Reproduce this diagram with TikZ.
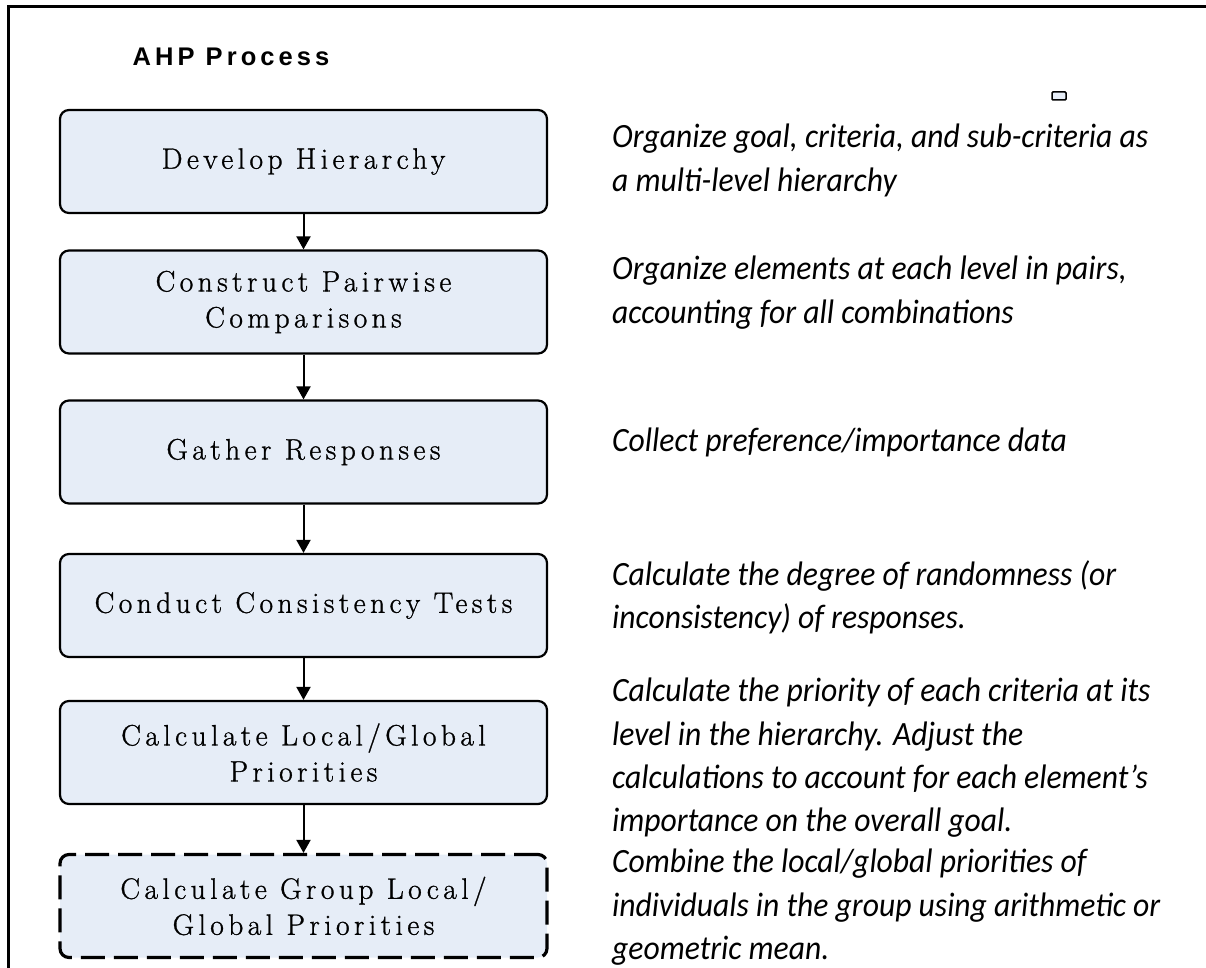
\documentclass[tikz,border=0pt]{standalone}
\usepackage{fontspec}
\usetikzlibrary{arrows.meta}
\newfontfamily\descfamily{Carlito}[FakeStretch=0.93]
\newfontfamily\titlefamily{Liberation Sans}[LetterSpace=16]
\newfontfamily\boxfamily{Latin Modern Roman}[LetterSpace=15,FakeBold=1]
\definecolor{boxfill}{RGB}{230,237,247}
\tikzset{
  stepbox/.style={draw=black, line width=2.2pt, fill=boxfill, rounded corners=9pt,
    minimum width=487pt, minimum height=103pt, align=center, inner sep=0pt,
    font=\boxfamily\fontsize{29.5}{36}\selectfont},
  groupbox/.style={stepbox, line width=3.2pt, dash pattern=on 24pt off 9pt},
  desc/.style={anchor=north west, align=left, inner sep=0pt,
    font=\descfamily\itshape\fontsize{34}{43.3}\selectfont},
  flow/.style={line width=2pt, -{Triangle[length=13pt,width=14pt]}}
}
\begin{document}
\begin{tikzpicture}[x=1pt,y=-1pt]
\useasboundingbox (0,0) rectangle (1206,968);
% frame
\draw[line width=3pt] (8,968) -- (8,7) -- (1206,7);
% title
\node (title) at (231,57) {\titlefamily\bfseries\fontsize{25.5}{30}\selectfont AHP Process};
% small marker
\node (sq) [draw, line width=1.5pt, fill=boxfill, rounded corners=1pt, minimum width=14pt, minimum height=8pt, inner sep=0pt] at (1059,96) {};
% boxes
\node[stepbox] (b1) at (303.5,161.5) {Develop Hierarchy};
\node[stepbox] (b2) at (303.5,302) {Construct Pairwise\\Comparisons};
\node[stepbox] (b3) at (303.5,452) {Gather Responses};
\node[stepbox] (b4) at (303.5,605.5) {Conduct Consistency Tests};
\node[stepbox] (b5) at (303.5,752.5) {Calculate Local/Global\\Priorities};
\node[groupbox] (b6) at (303.5,906) {Calculate Group Local/\\Global Priorities};
% arrows
\draw[flow] (b1.south) -- (b2.north);
\draw[flow] (b2.south) -- (b3.north);
\draw[flow] (b3.south) -- (b4.north);
\draw[flow] (b4.south) -- (b5.north);
\draw[flow] (b5.south) -- (b6.north);
% descriptions
\node[desc] (d1) at (612,124) {Organize goal, criteria, and sub-criteria as\\a multi-level hierarchy};
\node[desc] (d2) at (612,256) {Organize elements at each level in pairs,\\accounting for all combinations};
\node[desc] (d3) at (612,428) {Collect preference/importance data};
\node[desc] (d4) at (612,560) {Calculate the degree of randomness (or\\inconsistency) of responses.};
\node[desc] (d5) at (612,678) {Calculate the priority of each criteria at its\\level in the hierarchy. Adjust the\\calculations to account for each element’s\\importance on the overall goal.};
\node[desc] (d6) at (612,849) {Combine the local/global priorities of\\individuals in the group using arithmetic or\\geometric mean.};
\end{tikzpicture}
\end{document}
